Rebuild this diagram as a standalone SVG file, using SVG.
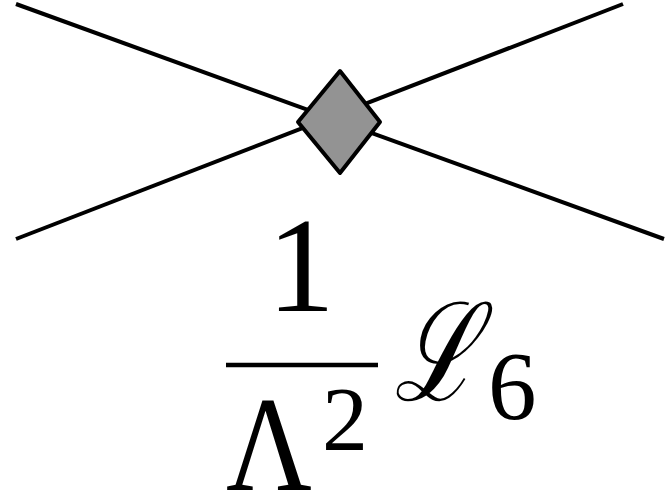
<svg xmlns="http://www.w3.org/2000/svg" width="668" height="491" viewBox="0 0 668 491">
<style>
.line{stroke:#000;stroke-width:4;fill:none}
.vertex{fill:#939393;stroke:#000;stroke-width:4;stroke-linejoin:round}
.m{font-family:"Liberation Serif","DejaVu Serif",serif;fill:#000}
</style>
<rect width="668" height="491" fill="#fff"/>
<g id="connectors">
<line class="line" x1="16" y1="4" x2="664" y2="239"/>
<line class="line" x1="623" y1="4" x2="16" y2="239"/>
</g>
<g id="vertex">
<polygon class="vertex" points="340,71 380,122 340,173 298,122"/>
</g>
<g id="label">
<text class="m" x="301" y="311" font-size="136" text-anchor="middle">1</text>
<line x1="226" y1="365" x2="378" y2="365" stroke="#000" stroke-width="4.5"/>
<text class="m" x="226" y="490" font-size="136" textLength="86" lengthAdjust="spacingAndGlyphs">Λ</text>
<text class="m" x="322" y="450" font-size="92">2</text>
<text x="394" y="400" font-size="136" font-style="italic" font-family="DejaVu Serif,serif" textLength="84" lengthAdjust="spacingAndGlyphs">ℒ</text>
<text class="m" x="488" y="419" font-size="97">6</text>
</g>
</svg>
